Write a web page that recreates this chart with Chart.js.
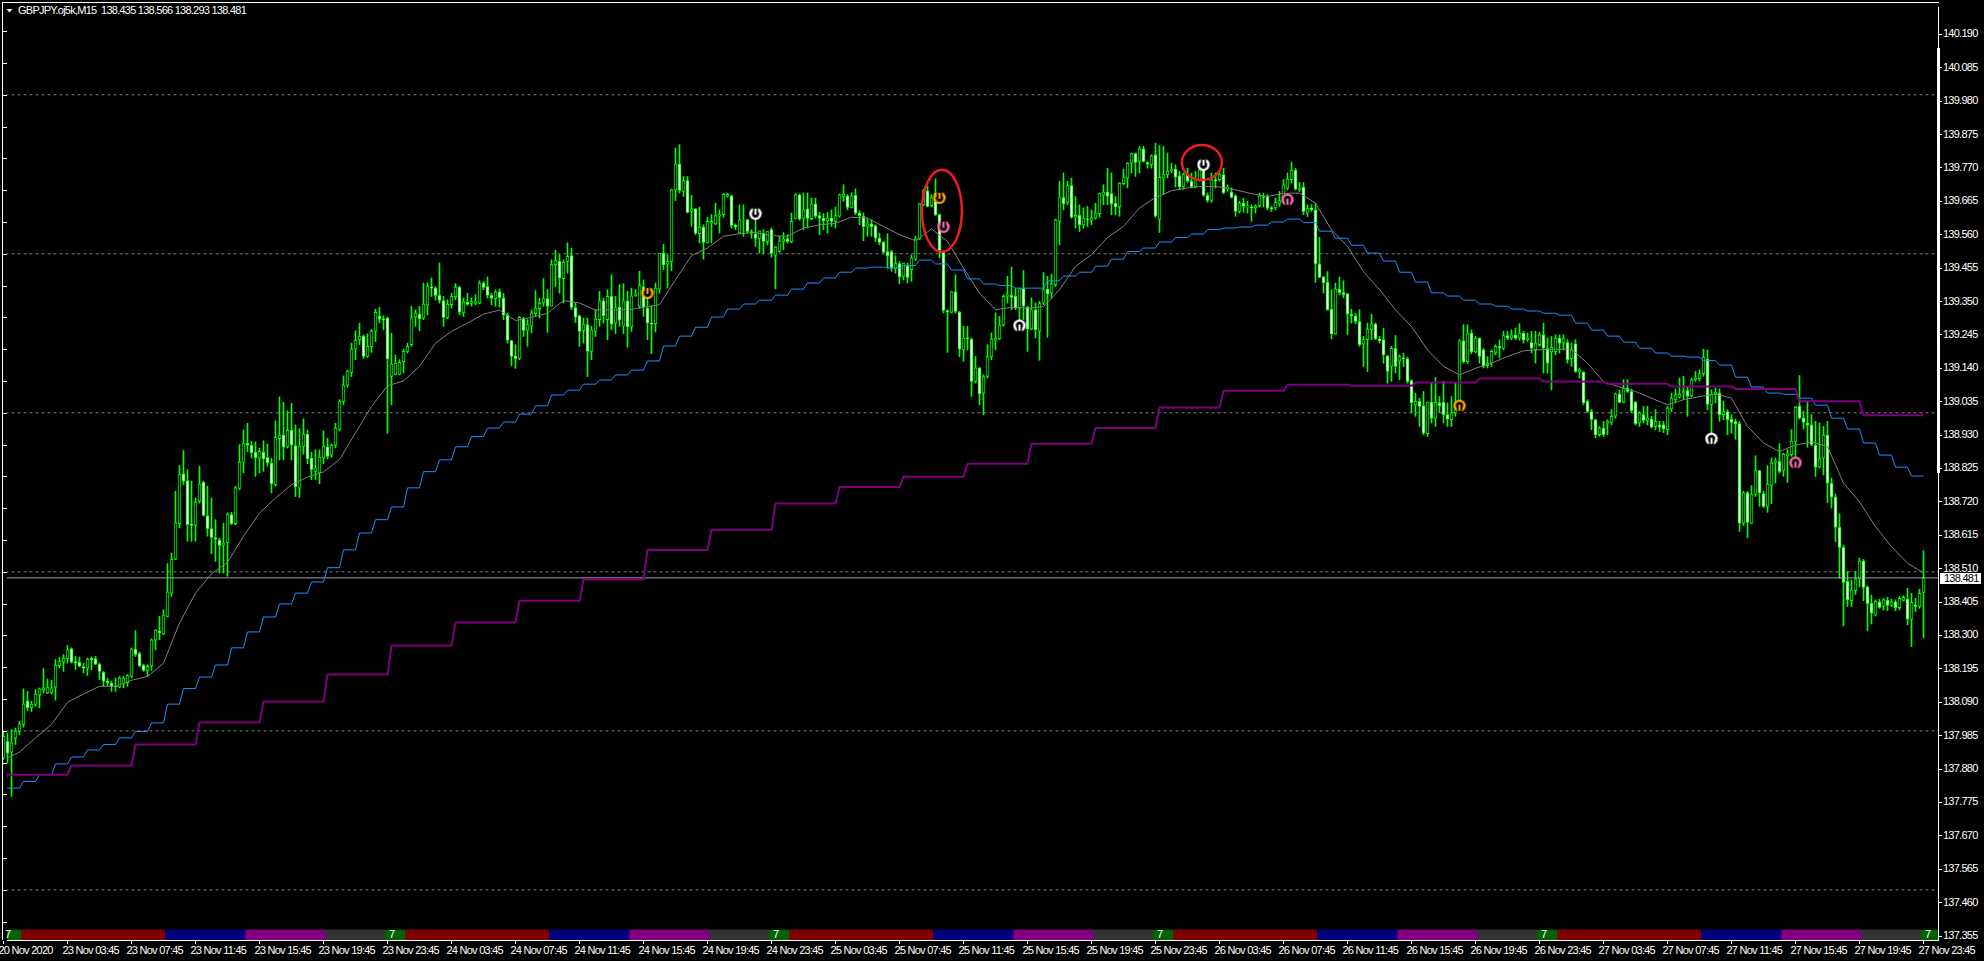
<!DOCTYPE html>
<html>
<head>
<meta charset="utf-8">
<title>GBPJPY.oj5k,M15</title>
<style>html,body{margin:0;background:#000}canvas{display:block}</style>
<script src="https://cdn.jsdelivr.net/npm/chart.js@4"></script>
</head>
<body>
<canvas id="chart" width="1984" height="961"></canvas>
<script>
// one row per M15 bar: open, high, low, close
const nov20 = [[137.915,138.000,137.910,137.983]];
const nov23 = [
[137.967,137.993,137.899,137.930],[137.933,138.004,137.794,137.962],[137.977,138.009,137.957,137.999],[137.999,138.030,137.988,138.022],
[138.020,138.132,138.011,138.085],[138.094,138.124,138.063,138.073],[138.074,138.093,138.061,138.084],[138.083,138.130,138.077,138.116],
[138.112,138.135,138.072,138.132],[138.129,138.196,138.119,138.135],[138.119,138.163,138.117,138.138],[138.119,138.159,138.116,138.135],
[138.137,138.224,138.096,138.207],[138.205,138.231,138.198,138.219],[138.216,138.240,138.187,138.229],[138.227,138.268,138.213,138.255],
[138.258,138.261,138.213,138.216],[138.218,138.234,138.193,138.213],[138.216,138.232,138.201,138.203],[138.201,138.213,138.182,138.198],
[138.197,138.229,138.174,138.226],[138.228,138.232,138.192,138.224],[138.227,138.234,138.208,138.210],[138.210,138.213,138.161,138.187],
[138.184,138.187,138.140,138.156],[138.156,138.166,138.140,138.151],[138.150,138.156,138.124,138.140],[138.140,138.166,138.124,138.138],
[138.138,138.171,138.135,138.166],[138.148,138.171,138.135,138.166],[138.151,138.177,138.140,138.174],[138.171,138.261,138.166,138.258],
[138.257,138.315,138.234,138.240],[138.243,138.247,138.201,138.205],[138.206,138.210,138.187,138.190],[138.190,138.208,138.171,138.203],
[138.203,138.289,138.190,138.286],[138.285,138.318,138.255,138.317],[138.314,138.360,138.287,138.308],[138.305,138.381,138.302,138.364],
[138.360,138.526,138.358,138.437],[138.433,138.559,138.423,138.540],[138.540,138.753,138.538,138.654],[138.651,138.834,138.638,138.806],
[138.808,138.881,138.774,138.785],[138.787,138.821,138.596,138.648],[138.650,138.785,138.596,138.646],[138.646,138.732,138.596,138.719],
[138.722,138.832,138.716,138.776],[138.781,138.785,138.675,138.677],[138.677,138.769,138.612,138.636],[138.636,138.732,138.557,138.608],
[138.608,138.664,138.533,138.603],[138.600,138.606,138.496,138.583],[138.584,138.653,138.496,138.591],[138.591,138.685,138.486,138.680],
[138.680,138.687,138.648,138.651],[138.651,138.769,138.648,138.764],[138.762,138.900,138.758,138.845],[138.845,138.946,138.811,138.903],
[138.904,138.967,138.878,138.898],[138.898,138.910,138.858,138.875],[138.876,138.908,138.800,138.859],[138.857,138.889,138.811,138.879],
[138.876,138.912,138.816,138.855],[138.860,138.902,138.832,138.842],[138.842,138.857,138.748,138.776],[138.774,138.975,138.769,138.923],
[138.919,139.050,138.852,138.930],[138.930,139.033,138.852,138.892],[138.894,139.006,138.889,138.945],[138.945,139.030,138.852,138.898],
[138.896,138.962,138.737,138.767],[138.763,138.950,138.734,138.896],[138.894,138.981,138.870,138.933],[138.933,138.946,138.840,138.855],
[138.858,138.876,138.790,138.821],[138.816,138.884,138.790,138.826],[138.811,138.883,138.777,138.861],[138.858,138.943,138.840,138.895],
[138.893,138.920,138.855,138.863],[138.867,138.902,138.860,138.898],[138.898,138.967,138.890,138.952],[138.948,139.041,138.944,139.037],
[139.036,139.116,139.025,139.087],[139.087,139.135,139.080,139.131],[139.127,139.219,139.114,139.200],[139.200,139.258,139.167,139.228],
[139.229,139.282,139.214,139.241],[139.241,139.245,139.171,139.177],[139.177,139.248,139.174,139.209],[139.208,139.263,139.190,139.257],
[139.257,139.326,139.224,139.316],[139.304,139.332,139.282,139.294],[139.295,139.305,139.261,139.293],[139.298,139.301,138.936,139.169]
];
const nov24 = [
[139.114,139.250,139.025,139.153],[139.121,139.182,139.119,139.156],[139.121,139.167,139.119,139.159],[139.161,139.200,139.125,139.193],
[139.193,139.219,139.188,139.209],[139.214,139.335,139.209,139.301],[139.301,139.324,139.272,139.314],[139.310,139.335,139.258,139.296],
[139.298,139.408,139.293,139.342],[139.338,139.408,139.308,139.398],[139.395,139.424,139.366,139.392],[139.392,139.397,139.355,139.369],
[139.369,139.471,139.345,139.353],[139.353,139.366,139.272,139.300],[139.300,139.355,139.296,139.342],[139.340,139.376,139.329,139.366],
[139.364,139.406,139.355,139.395],[139.395,139.397,139.308,139.316],[139.314,139.361,139.303,139.350],[139.347,139.376,139.338,139.341],
[139.344,139.361,139.335,139.350],[139.344,139.371,139.340,139.350],[139.345,139.415,139.342,139.408],[139.408,139.413,139.387,139.394],
[139.397,139.427,139.361,139.369],[139.369,139.376,139.340,139.360],[139.359,139.387,139.335,139.380],[139.380,139.389,139.332,139.361],
[139.361,139.376,139.293,139.308],[139.308,139.314,139.219,139.228],[139.227,139.228,139.148,139.177],[139.179,139.214,139.140,139.170],
[139.171,139.303,139.167,139.300],[139.297,139.300,139.240,139.259],[139.260,139.293,139.209,139.277],[139.272,139.324,139.251,139.314],
[139.312,139.384,139.303,139.329],[139.327,139.361,139.298,139.345],[139.346,139.422,139.335,139.359],[139.359,139.387,139.253,139.335],
[139.335,139.481,139.335,139.466],[139.465,139.511,139.397,139.480],[139.477,139.497,139.376,139.424],[139.422,139.481,139.345,139.474],
[139.476,139.534,139.439,139.492],[139.494,139.518,139.324,139.331],[139.331,139.345,139.284,139.301],[139.305,139.308,139.209,139.256],
[139.258,139.298,139.219,139.277],[139.277,139.298,139.114,139.193],[139.193,139.272,139.167,139.261],[139.256,139.324,139.240,139.295],
[139.293,139.382,139.272,139.352],[139.352,139.361,139.282,139.305],[139.293,139.387,139.230,139.366],[139.366,139.434,139.261,139.279],
[139.282,139.366,139.249,139.331],[139.332,139.403,139.272,139.291],[139.272,139.406,139.249,139.352],[139.352,139.382,139.206,139.270],
[139.270,139.392,139.256,139.368],[139.369,139.387,139.366,139.374],[139.335,139.445,139.329,139.400],[139.397,139.418,139.303,139.331],
[139.329,139.376,139.230,139.282],[139.282,139.335,139.186,139.279],[139.280,139.408,139.254,139.392],[139.389,139.502,139.376,139.502],
[139.502,139.530,139.450,139.465],[139.467,139.497,139.392,139.476],[139.476,139.703,139.447,139.701],[139.701,139.832,139.667,139.782],
[139.782,139.843,139.691,139.699],[139.696,139.743,139.680,139.730],[139.730,139.743,139.628,139.630],[139.633,139.684,139.586,139.641],
[139.641,139.642,139.560,139.565],[139.563,139.647,139.534,139.584],[139.584,139.591,139.483,139.536],[139.534,139.615,139.534,139.602],
[139.596,139.623,139.534,139.602],[139.594,139.659,139.591,139.620],[139.618,139.638,139.565,139.623],[139.623,139.689,139.615,139.687],
[139.681,139.691,139.678,139.687],[139.682,139.684,139.581,139.589],[139.590,139.594,139.576,139.584],[139.565,139.654,139.563,139.607],
[139.605,139.654,139.555,139.607],[139.607,139.609,139.565,139.570],[139.570,139.576,139.549,139.565],[139.563,139.607,139.523,139.548],
[139.548,139.572,139.502,139.572],[139.565,139.576,139.500,139.539],[139.539,139.570,139.528,139.570],[139.576,139.581,139.489,139.501]
];
const nov25 = [
[139.495,139.523,139.390,139.521],[139.507,139.555,139.504,139.541],[139.539,139.567,139.513,139.547],[139.547,139.560,139.534,139.539],
[139.537,139.628,139.534,139.602],[139.611,139.689,139.609,139.685],[139.685,139.688,139.605,139.609],[139.612,139.691,139.576,139.638],
[139.641,139.691,139.581,139.611],[139.610,139.675,139.607,139.657],[139.657,139.675,139.612,139.618],[139.620,139.630,139.560,139.612],
[139.612,139.626,139.576,139.603],[139.603,139.630,139.565,139.612],[139.612,139.638,139.586,139.602],[139.602,139.647,139.581,139.620],
[139.618,139.688,139.615,139.685],[139.680,139.717,139.665,139.688],[139.682,139.686,139.638,139.646],[139.646,139.691,139.644,139.682],
[139.684,139.704,139.623,139.628],[139.628,139.635,139.591,139.620],[139.618,139.628,139.541,139.584],[139.586,139.612,139.555,139.594],
[139.594,139.607,139.555,139.584],[139.588,139.591,139.539,139.549],[139.549,139.565,139.528,139.536],[139.536,139.539,139.502,139.505],
[139.507,139.563,139.455,139.494],[139.507,139.511,139.445,139.455],[139.455,139.494,139.439,139.471],[139.469,139.476,139.406,139.427],
[139.429,139.471,139.418,139.471],[139.463,139.471,139.408,139.426],[139.450,139.497,139.413,139.487],[139.483,139.555,139.479,139.546],
[139.546,139.659,139.544,139.657],[139.654,139.703,139.651,139.699],[139.698,139.712,139.647,139.649],[139.651,139.686,139.647,139.677],
[139.691,139.735,139.620,139.623],[139.623,139.625,139.487,139.507],[139.505,139.507,139.314,139.322],[139.321,139.324,139.190,139.316],
[139.316,139.382,139.314,139.380],[139.380,139.434,139.314,139.319],[139.317,139.319,139.177,139.200],[139.198,139.272,139.162,139.235],
[139.235,139.272,139.198,139.232],[139.232,139.235,139.052,139.099],[139.099,139.177,139.094,139.141],[139.141,139.142,139.025,139.059],
[139.062,139.120,138.994,139.114],[139.114,139.214,139.109,139.177],[139.177,139.251,139.167,139.232],[139.228,139.314,139.198,139.235],
[139.232,139.303,139.230,139.276],[139.276,139.371,139.272,139.366],[139.366,139.429,139.345,139.370],[139.369,139.458,139.324,139.363],
[139.366,139.392,139.324,139.329],[139.329,139.392,139.261,139.390],[139.391,139.447,139.293,139.335],[139.332,139.335,139.193,139.263],
[139.263,139.361,139.261,139.324],[139.324,139.345,139.235,139.261],[139.257,139.350,139.165,139.343],[139.345,139.441,139.340,139.387],
[139.389,139.429,139.237,139.374],[139.376,139.436,139.361,139.406],[139.403,139.609,139.397,139.607],[139.602,139.728,139.528,139.678],
[139.677,139.754,139.638,139.657],[139.662,139.728,139.654,139.714],[139.714,139.738,139.612,139.615],[139.615,139.680,139.581,139.621],
[139.621,139.654,139.570,139.591],[139.591,139.644,139.581,139.612],[139.610,139.649,139.586,139.608],[139.605,139.638,139.591,139.612],
[139.612,139.659,139.609,139.628],[139.626,139.691,139.615,139.689],[139.684,139.717,139.654,139.694],[139.694,139.769,139.654,139.680],
[139.689,139.754,139.623,139.657],[139.659,139.680,139.623,139.647],[139.647,139.724,139.618,139.722],[139.720,139.766,139.717,139.741],
[139.738,139.787,139.707,139.785],[139.785,139.817,139.754,139.815],[139.815,139.817,139.743,139.787],[139.790,139.838,139.754,139.830],
[139.830,139.838,139.788,139.790],[139.787,139.790,139.769,139.782],[139.781,139.811,139.769,139.808],[139.811,139.848,139.615,139.618]
];
const nov26 = [
[139.609,139.840,139.567,139.740],[139.738,139.838,139.686,139.749],[139.749,139.817,139.738,139.760],[139.762,139.785,139.754,139.766],
[139.766,139.780,139.710,139.741],[139.745,139.759,139.703,139.710],[139.710,139.754,139.703,139.749],[139.751,139.769,139.724,139.728],
[139.728,139.754,139.707,139.710],[139.712,139.759,139.707,139.733],[139.731,139.785,139.728,139.764],[139.764,139.764,139.680,139.684],
[139.684,139.691,139.662,139.668],[139.668,139.754,139.662,139.733],[139.733,139.754,139.707,139.728],[139.733,139.759,139.728,139.749],
[139.749,139.769,139.689,139.691],[139.706,139.717,139.696,139.710],[139.694,139.707,139.675,139.678],[139.682,139.686,139.618,139.633],
[139.633,139.665,139.628,139.659],[139.659,139.675,139.630,139.649],[139.647,139.665,139.628,139.651],[139.647,139.654,139.602,139.644],
[139.644,139.654,139.628,139.651],[139.651,139.691,139.647,139.682],[139.680,139.691,139.647,139.677],[139.680,139.686,139.638,139.644],
[139.645,139.649,139.633,139.641],[139.644,139.675,139.638,139.662],[139.657,139.696,139.649,139.667],[139.675,139.733,139.670,139.717],
[139.706,139.754,139.701,139.735],[139.733,139.788,139.722,139.762],[139.762,139.769,139.701,139.703],[139.703,139.724,139.696,139.706],
[139.710,139.724,139.623,139.633],[139.628,139.654,139.617,139.644],[139.644,139.654,139.633,139.638],[139.638,139.659,139.410,139.468],
[139.468,139.552,139.425,139.426],[139.427,139.429,139.376,139.408],[139.410,139.444,139.322,139.324],[139.326,139.387,139.232,139.248],
[139.248,139.408,139.247,139.389],[139.389,139.427,139.371,139.378],[139.378,139.415,139.361,139.371],[139.374,139.376,139.245,139.310],
[139.310,139.326,139.282,139.305],[139.305,139.313,139.280,139.287],[139.287,139.324,139.209,139.214],[139.216,139.240,139.146,139.230],
[139.230,139.282,139.130,139.263],[139.261,139.310,139.230,139.280],[139.279,139.282,139.230,139.232],[139.232,139.240,139.219,139.227],
[139.230,139.266,139.156,139.182],[139.179,139.180,139.093,139.130],[139.146,139.209,139.099,139.203],[139.203,139.243,139.125,139.146],
[139.162,139.182,139.104,139.177],[139.172,139.188,139.146,139.169],[139.170,139.175,139.093,139.099],[139.101,139.104,139.000,139.031],
[139.025,139.062,138.989,139.036],[139.036,139.046,138.957,139.020],[139.022,139.067,138.931,138.936],[138.934,139.034,138.926,139.034],
[139.034,139.093,138.968,138.983],[138.983,139.111,138.957,139.033],[139.031,139.051,139.000,139.022],[139.033,139.099,138.968,138.994],
[138.994,139.031,138.957,138.980],[138.978,139.051,138.957,139.000],[139.000,139.093,138.989,139.020],[139.004,139.230,139.000,139.226],
[139.226,139.277,139.156,139.161],[139.161,139.277,139.155,139.248],[139.251,139.261,139.186,139.191],[139.191,139.240,139.188,139.235],
[139.235,139.236,139.156,139.177],[139.198,139.203,139.141,139.146],[139.148,139.177,139.141,139.156],[139.156,139.198,139.146,139.193],
[139.188,139.214,139.182,139.209],[139.209,139.230,139.172,139.203],[139.203,139.256,139.198,139.243],[139.243,139.256,139.230,139.235],
[139.235,139.261,139.230,139.245],[139.245,139.266,139.230,139.235],[139.235,139.280,139.228,139.251],[139.251,139.256,139.219,139.228],
[139.230,139.251,139.224,139.235],[139.221,139.256,139.188,139.203],[139.198,139.256,139.156,139.219],[139.214,139.253,139.209,139.245]
];
const nov27 = [
[139.245,139.282,139.125,139.203],[139.203,139.235,139.125,139.156],[139.191,139.240,139.072,139.206],[139.191,139.245,139.182,139.235],
[139.235,139.245,139.188,139.219],[139.219,139.245,139.198,139.235],[139.221,139.230,139.156,139.167],[139.169,139.219,139.146,139.198],
[139.217,139.230,139.127,139.130],[139.130,139.141,139.109,139.135],[139.127,139.130,139.025,139.031],[139.036,139.041,139.000,139.004],
[139.004,139.010,138.947,138.978],[138.978,138.980,138.921,138.931],[138.931,138.957,138.926,138.952],[138.952,138.973,138.926,138.931],
[138.968,138.978,138.931,138.973],[138.970,139.010,138.962,138.989],[138.989,139.062,138.983,139.060],[139.060,139.072,139.031,139.033],
[139.033,139.104,139.031,139.078],[139.078,139.104,139.064,139.067],[139.067,139.075,139.000,139.007],[139.034,139.036,138.962,138.966],
[138.968,139.004,138.957,139.000],[138.994,139.020,138.968,138.976],[138.976,139.020,138.962,138.983],[138.980,138.989,138.952,138.955],
[138.957,139.010,138.947,138.973],[138.962,138.973,138.941,138.955],[138.962,138.973,138.938,138.949],[138.947,139.020,138.931,139.015],
[139.012,139.062,139.004,139.046],[139.041,139.075,139.031,139.057],[139.049,139.109,139.046,139.059],[139.062,139.115,139.041,139.067],
[139.070,139.083,138.989,139.052],[139.052,139.109,139.050,139.104],[139.104,139.130,139.099,139.109],[139.107,139.135,139.100,139.123],
[139.123,139.200,139.115,139.175],[139.169,139.198,139.010,139.026],[139.026,139.072,138.936,139.057],[139.059,139.078,139.031,139.065],
[139.062,139.075,138.973,138.994],[138.994,139.036,138.978,139.004],[139.004,139.010,138.931,138.978],[138.980,138.994,138.936,138.970],
[138.972,138.980,138.917,138.965],[138.966,138.973,138.627,138.653],[138.653,138.753,138.646,138.748],[138.748,138.753,138.608,138.655],
[138.653,138.771,138.651,138.743],[138.743,138.865,138.737,138.818],[138.818,138.819,138.706,138.748],[138.746,138.753,138.701,138.706],
[138.706,138.834,138.687,138.776],[138.772,138.858,138.714,138.842],[138.844,138.858,138.779,138.849],[138.847,138.903,138.811,138.816],
[138.819,138.873,138.800,138.870],[138.866,138.884,138.781,138.871],[138.868,138.947,138.863,138.911],[138.910,139.020,138.847,139.018],
[139.020,139.117,138.980,138.983],[138.983,139.005,138.949,138.970],[138.968,139.036,138.892,138.961],[138.962,138.994,138.897,138.900],
[138.898,138.973,138.800,138.829],[138.830,138.968,138.826,138.855],[138.857,138.957,138.805,138.930],[138.930,138.973,138.718,138.779],
[138.779,138.795,138.700,138.735],[138.735,138.745,138.595,138.640],[138.640,138.682,138.480,138.577],[138.577,138.584,138.330,138.467],
[138.470,138.501,138.391,138.412],[138.409,138.474,138.391,138.443],[138.441,138.501,138.429,138.478],[138.477,138.543,138.453,138.534],
[138.534,138.539,138.409,138.451],[138.453,138.456,138.315,138.400],[138.401,138.427,138.336,138.370],[138.364,138.412,138.361,138.408],
[138.406,138.414,138.385,138.388],[138.391,138.417,138.380,138.412],[138.410,138.420,138.378,138.394],[138.394,138.414,138.391,138.406],
[138.406,138.412,138.378,138.387],[138.387,138.422,138.380,138.417],[138.410,138.425,138.408,138.420],[138.414,138.448,138.333,138.351],
[138.351,138.432,138.265,138.404],[138.395,138.417,138.375,138.391],[138.391,138.445,138.385,138.432],[138.435,138.566,138.293,138.481]
];
const candles = [...nov20, ...nov23, ...nov24, ...nov25, ...nov26, ...nov27];

// moving averages: H4 steps, H1 steps, and the slow line read every 4th bar
const purpleH4 = [137.828,137.862,137.891,137.957,138.026,138.092,138.177,138.268,138.341,138.409,138.476,138.569,138.632,138.715,138.767,138.799,138.840,138.903,138.952,139.017,139.069,139.088,139.085,139.095,139.108,139.098,139.091,139.083,139.075,139.036,138.992];
const blueH1 = [137.805,137.820,137.841,137.862,137.896,137.918,137.940,137.957,137.978,137.998,138.025,138.084,138.133,138.169,138.207,138.261,138.311,138.358,138.399,138.433,138.468,138.513,138.569,138.622,138.664,138.704,138.764,138.815,138.852,138.893,138.925,138.952,138.971,138.996,139.022,139.056,139.071,139.090,139.103,139.119,139.134,139.163,139.210,139.241,139.269,139.301,139.326,139.342,139.354,139.370,139.389,139.408,139.424,139.442,139.455,139.458,139.455,139.463,139.480,139.468,139.449,139.421,139.405,139.400,139.392,139.392,139.415,139.430,139.442,139.461,139.483,139.507,139.518,139.537,139.551,139.562,139.576,139.581,139.584,139.590,139.600,139.609,139.598,139.571,139.549,139.527,139.502,139.477,139.442,139.411,139.377,139.367,139.354,139.342,139.335,139.326,139.320,139.313,139.307,139.282,139.260,139.241,139.222,139.203,139.188,139.178,139.175,139.164,139.150,139.112,139.081,139.062,139.058,139.046,139.024,138.983,138.949,138.905,138.867,138.829,138.801];
const grayMa = [137.909,137.933,137.978,138.020,138.090,138.116,138.140,138.140,138.159,138.171,138.213,138.339,138.433,138.494,138.530,138.612,138.685,138.732,138.774,138.798,138.814,138.853,138.937,139.020,139.085,139.100,139.146,139.219,139.256,139.282,139.310,139.323,139.290,139.300,139.313,139.353,139.345,139.323,139.324,139.323,139.332,139.340,139.418,139.494,139.518,139.555,139.563,139.567,139.557,139.555,139.581,139.591,139.596,139.615,139.612,139.586,139.560,139.541,139.578,139.539,139.455,139.376,139.324,139.332,139.329,139.334,139.387,139.460,139.497,139.551,139.586,139.644,139.677,139.698,139.707,139.712,139.710,139.701,139.689,139.680,139.690,139.691,139.659,139.575,139.523,139.444,139.387,139.324,139.271,139.198,139.146,139.119,139.140,139.156,139.177,139.195,139.198,139.200,139.200,139.156,139.098,139.081,139.067,139.046,139.025,139.041,139.051,139.059,139.046,138.957,138.905,138.878,138.899,138.908,138.894,138.779,138.720,138.642,138.579,138.527,138.497];

const priceTicks = [140.190,140.085,139.980,139.875,139.770,139.665,139.560,139.455,139.350,139.245,139.140,139.035,138.930,138.825,138.720,138.615,138.510,138.405,138.300,138.195,138.090,137.985,137.880,137.775,137.670,137.565,137.460,137.355];
const gridLevels = [140.0,139.5,139.0,138.5,138.0,137.5];
const leftLevels = [140.2,140.1,140.0,139.9,139.8,139.7,139.6,139.5,139.4,139.3,139.2,139.1,139.0,138.9,138.8,138.7,138.6,138.5,138.4,138.3,138.2,138.1,138.0,137.9,137.8,137.7,137.6,137.5,137.4];
const timeLabels = ['20 Nov 2020','23 Nov 03:45','23 Nov 07:45','23 Nov 11:45','23 Nov 15:45','23 Nov 19:45','23 Nov 23:45','24 Nov 03:45','24 Nov 07:45','24 Nov 11:45','24 Nov 15:45','24 Nov 19:45','24 Nov 23:45','25 Nov 03:45','25 Nov 07:45','25 Nov 11:45','25 Nov 15:45','25 Nov 19:45','25 Nov 23:45','26 Nov 03:45','26 Nov 07:45','26 Nov 11:45','26 Nov 15:45','26 Nov 19:45','26 Nov 23:45','27 Nov 03:45','27 Nov 07:45','27 Nov 11:45','27 Nov 15:45','27 Nov 19:45','27 Nov 23:45'];
const lastBid = 138.481;
const headerText = 'GBPJPY.oj5k,M15  138.435 138.566 138.293 138.481';

// session strip: bars per session in a day
const sessionLengths = [5,36,20,20,15];
const sessionColors = ['#006400','#800000','#000080','#800080','#333333'];
const sessionDayStarts = [0,96,192,288,384,480];

// signal marks (bar, price, colour, opening side)
const signalBars = [161,188,234,235,254,300,321,364,427,448];
const signalPrices = [139.377,139.626,139.676,139.585,139.274,139.780,139.670,139.022,138.918,138.843];
const signalColors = ['#ffa500','#ffffff','#ffa500','#ff69b4','#ffffff','#ffffff','#ff69b4','#ffa500','#ffffff','#ff69b4'];
const signalOpenTop = [true,true,true,true,false,true,false,false,false,false];

// hand drawn red rings
const ringBars = [234.6,299.6];
const ringPrices = [139.635,139.787];
const ringRadii = [[20,41],[20,17.5]];

const FONT = '"Liberation Sans",Arial,sans-serif';
const STRIP_TOP = 137.374;
// terminal scale: 140.190 sits on row 34.3, 318.06 px per 1.000 of price, bars 4 px apart
const priceAtRow = row => 140.19 - (row - 34.3) / 318.06;
const barAtCol = col => (col - 3.5) / 4;

function sessionColorAt(i){
  let pos = i % 96;
  for (let s = 0; s < sessionLengths.length; s++){
    if (pos < sessionLengths[s]) return sessionColors[s];
    pos -= sessionLengths[s];
  }
  return sessionColors[0];
}

function makeSignal(color, openTop){
  const c = document.createElement('canvas');
  c.width = 14; c.height = 14;
  const g = c.getContext('2d');
  g.translate(7, 7);
  if (!openTop) g.scale(1, -1);
  g.fillStyle = color;
  g.beginPath(); g.arc(0, 0, 6.2, 0, Math.PI * 2); g.fill();
  g.fillStyle = '#000';
  g.beginPath(); g.arc(0, 0.3, 3.6, 0, Math.PI * 2); g.fill();
  g.fillRect(-2.5, -7, 5, 7);
  g.fillStyle = color;
  g.fillRect(-1, -5, 2, 6);
  return c;
}

// H1/H4 values hold flat for their block of bars, first block is the lone 20 Nov bar
function stepPoints(values, span){
  const pts = [{x: 0, y: values[0]}];
  for (let n = 1; n < values.length; n++){
    pts.push({x: 1 + span * (n - 1), y: values[n]});
    pts.push({x: Math.min(span * n, 480), y: values[n]});
  }
  return pts;
}

const sessionBars = [];
for (let i = 0; i < 484; i++) sessionBars.push({x: i, y: [priceAtRow(945), STRIP_TOP]});

const chromePlugin = {
  id: 'chrome',
  beforeDraw(chart){
    chart.ctx.letterSpacing = '-0.75px';
  },
  afterDatasetsDraw(chart){
    const {ctx, scales: {x, y}} = chart;
    ctx.save();
    ctx.strokeStyle = '#ed1c24';
    ctx.lineWidth = 2.5;
    ringBars.forEach((b, n) => {
      ctx.beginPath();
      ctx.ellipse(x.getPixelForValue(b), y.getPixelForValue(ringPrices[n]), ringRadii[n][0], ringRadii[n][1], 0, 0, Math.PI * 2);
      ctx.stroke();
    });
    ctx.font = '11px ' + FONT;
    ctx.textBaseline = 'middle';
    ctx.textAlign = 'left';
    ctx.fillStyle = '#fff';
    sessionDayStarts.forEach(i => ctx.fillText('7', x.getPixelForValue(i) + 1.5, 935));
    ctx.restore();
  },
  afterDraw(chart){
    const {ctx, scales: {y}} = chart;
    ctx.save();
    ctx.fillStyle = '#fff';
    ctx.fillRect(2, 2, 1937, 1);
    ctx.fillRect(2, 2, 1, 938);
    leftLevels.forEach(v => ctx.fillRect(3, Math.round(y.getPixelForValue(v)), 4, 1));
    ctx.fillRect(1937, 48, 3, 425);
    ctx.beginPath(); ctx.moveTo(6.5, 9); ctx.lineTo(12.5, 9); ctx.lineTo(9.5, 12.5); ctx.fill();
    ctx.font = '11px ' + FONT;
    ctx.textBaseline = 'middle';
    ctx.textAlign = 'left';
    ctx.fillText(headerText, 18, 10.5);
    ctx.fillRect(1940, 573, 41, 11);
    ctx.fillStyle = '#000';
    ctx.fillText(lastBid.toFixed(3), 1944, 578.5);
    ctx.restore();
  }
};

const canvas = document.getElementById('chart');
canvas.getContext('2d', {alpha: false});

const lineBase = {type: 'line', pointRadius: 0, tension: 0, fill: false, borderJoinStyle: 'round'};

const chart = new Chart(canvas, {
  type: 'bar',
  data: {
    datasets: [
      {type: 'line', data: signalBars.map((b, n) => ({x: b, y: signalPrices[n]})), showLine: false, order: 0,
        pointRadius: 6, pointStyle: signalBars.map((b, n) => makeSignal(signalColors[n], signalOpenTop[n]))},
      {...lineBase, data: stepPoints(purpleH4, 16), borderColor: '#800080', borderWidth: 2, order: 1},
      {...lineBase, data: stepPoints(blueH1, 4), borderColor: '#1e90ff', borderWidth: 1, order: 2},
      {...lineBase, data: grayMa.map((v, n) => ({x: n * 4, y: v})), borderColor: '#808080', borderWidth: 1, order: 3},
      {...lineBase, data: [{x: -1, y: lastBid}, {x: 484, y: lastBid}], borderColor: '#9aa3ab', borderWidth: 1, order: 4},
      {data: candles.map((c, i) => ({x: i, y: [c[0], c[3]]})), barThickness: 3, grouped: false, clip: false, borderSkipped: false, borderWidth: 1,
        borderColor: '#00ff00', backgroundColor: candles.map(c => c[3] >= c[0] ? '#000000' : '#ffffff'), order: 5},
      {data: candles.map((c, i) => ({x: i, y: [c[2], c[1]]})), barThickness: 1, grouped: false, clip: false, borderWidth: 0,
        backgroundColor: '#00ff00', order: 6},
      ...gridLevels.map(v => ({...lineBase, data: [{x: -1, y: v}, {x: 484, y: v}], borderColor: '#808080', borderWidth: 1, borderDash: [3, 3], order: 7})),
      {data: sessionBars, barThickness: 4, grouped: false, borderWidth: 0, backgroundColor: sessionBars.map((b, i) => sessionColorAt(i)), order: 8}
    ]
  },
  options: {
    responsive: false,
    animation: false,
    devicePixelRatio: 1,
    layout: {padding: {left: 3, top: 3, right: 0, bottom: 0}},
    plugins: {legend: {display: false}, tooltip: {enabled: false}},
    scales: {
      x: {
        type: 'linear', offset: false, min: barAtCol(3), max: barAtCol(1938),
        afterBuildTicks: s => { s.ticks = timeLabels.map((t, n) => ({value: n * 16})); },
        afterFit: s => { s.height = 21; s.paddingLeft = 0; s.paddingRight = 0; },
        ticks: {autoSkip: false, maxRotation: 0, align: 'start', labelOffset: -5, padding: 0, color: '#fff', font: {family: FONT, size: 11}, callback: v => timeLabels[v / 16]},
        grid: {offset: false, drawOnChartArea: false, tickLength: 4, tickColor: '#fff'},
        border: {color: '#fff'}
      },
      y: {
        position: 'right', min: priceAtRow(940), max: priceAtRow(3),
        afterBuildTicks: s => { s.ticks = priceTicks.map(v => ({value: v})); },
        afterFit: s => { s.width = 46; s.paddingTop = 0; s.paddingBottom = 0; },
        ticks: {autoSkip: false, padding: 1, crossAlign: 'near', color: '#fff', font: {family: FONT, size: 11}, callback: v => v.toFixed(3)},
        grid: {drawOnChartArea: false, tickLength: 4, tickColor: '#fff'},
        border: {color: '#fff'}
      }
    }
  },
  plugins: [chromePlugin]
});

// layout keeps its own margin for the axis labels: pin the price and bar ranges to the real plot box
const area = chart.chartArea;
chart.options.scales.y.min = priceAtRow(area.bottom);
chart.options.scales.y.max = priceAtRow(area.top);
chart.options.scales.x.min = barAtCol(area.left);
chart.options.scales.x.max = barAtCol(area.right);
chart.update();
</script>
</body>
</html>
